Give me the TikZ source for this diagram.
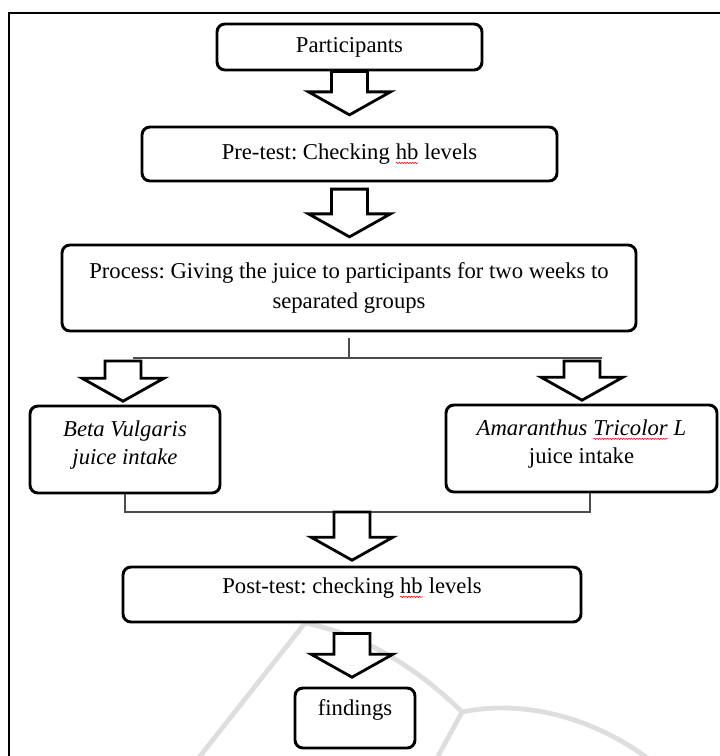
\documentclass[tikz,border=0pt]{standalone}
\usepackage{fontspec}
\setmainfont{Liberation Serif}
\frenchspacing
\usetikzlibrary{calc,decorations.pathmorphing}

% red spell-check squiggle under a word
\newcommand{\spellmark}[1]{\tikz[baseline=(sw.base)]{\node[inner sep=0pt, outer sep=0pt, draw=none, fill=none, minimum width=0pt, minimum height=0pt, sharp corners, text depth=0pt] (sw) {#1};
	\draw[red, line width=0.4pt, sharp corners, line join=round, decorate, decoration={snake, amplitude=0.55pt, segment length=2pt}] ($(sw.south west)!-0.22!(sw.north west)$) -- ($(sw.south east)!-0.22!(sw.north east)$);}}

\tikzset{
	stepbox/.style={draw=black, line width=2.2pt, rounded corners=6pt, fill=white, align=center, inner sep=3pt, font=\fontsize{17}{21}\selectfont},
	link/.style={draw=black!70, line width=0.8pt},
	hollow/.style={draw=black, line width=2.1pt, fill=white, line join=miter,
		to path={let \p1=(\tikztostart), \p2=(\tikztotarget) in
			(\x1-13.5pt,\y1) -- (\x1-13.5pt,\y2-17.25pt) -- (\x1-30.75pt,\y2-17.25pt) -- (\x1,\y2)
			-- (\x1+30.75pt,\y2-17.25pt) -- (\x1+13.5pt,\y2-17.25pt) -- (\x1+13.5pt,\y1) -- cycle}},
	watermark/.style={draw=black!13, line width=3.6pt, line cap=round}
}

\begin{document}
\begin{tikzpicture}[x=0.75pt,y=0.75pt,yscale=-1,xscale=1]
	\useasboundingbox (0,0) rectangle (720,756);
	
	%Frame
	\draw[line width=1.5pt] (9,13) rectangle (760,800);
	
	%Watermark arcs
	\draw[watermark] (197,760) -- (305,623) .. controls (370,636) and (425,675) .. (462,712);
	\draw[watermark] (462,712) .. controls (530,698) and (600,722) .. (650,760);
	\draw[watermark] (462,712) -- (436,760);
	
	% Boxes
	\node[stepbox, minimum width=198.75pt, minimum height=34.5pt] (part) at (349.5,47) {Participants};
	\node[stepbox, minimum width=311.25pt, minimum height=40.5pt] (pre) at (349.5,154) {Pre-test: Checking \spellmark{hb} levels};
	\node[stepbox, minimum width=430.5pt, minimum height=64.5pt] (proc) at (349,288) {Process: Giving the juice to participants for two weeks to\\[1.5pt] separated groups};
	\node[stepbox, minimum width=142.5pt, minimum height=65.25pt, text depth=9.7pt] (beta) at (125,449.5) {\itshape Beta Vulgaris\\ \itshape juice intake};
	\node[stepbox, minimum width=203.25pt, minimum height=65.25pt, text depth=10.5pt] (amar) at (581.5,448.5) {\itshape Amaranthus \spellmark{Tricolor} L\\ juice intake};
	\node[stepbox, minimum width=343.5pt, minimum height=41.25pt, text depth=13.5pt] (post) at (352,594.5) {Post-test: checking \spellmark{hb} levels};
	\node[stepbox, minimum width=90pt, minimum height=45pt, text depth=15.7pt] (find) at (355,718) {findings};
	
	% Split and merge lines
	\coordinate (sl) at (133,358);
	\coordinate (sr) at (602,358);
	\coordinate (mr) at (590,512);
	\draw[link] ([yshift=4pt]proc.south) -- (proc.south |- sl);
	\draw[link] (sl) -- (sr);
	\draw[link] (beta.south) |- (mr) -- (mr |- amar.south);
	
	% Block arrows
	\coordinate (bl) at (123,361);
	\coordinate (br) at (582,361);
	\coordinate (mp) at (352,512);
	\draw[hollow] (part.south) to ([yshift=-8pt]pre.north);
	\draw[hollow] ([yshift=5pt]pre.south) to ([yshift=-5pt]proc.north);
	\draw[hollow] (bl) to ([yshift=-2.5pt]beta.north -| bl);
	\draw[hollow] (br) to ([yshift=-2.5pt]amar.north -| br);
	\draw[hollow] (mp) to ([yshift=-4pt]post.north);
	\draw[hollow] ([yshift=7.5pt]post.south) to ([yshift=-7pt]find.north);
	
\end{tikzpicture}
\end{document}
